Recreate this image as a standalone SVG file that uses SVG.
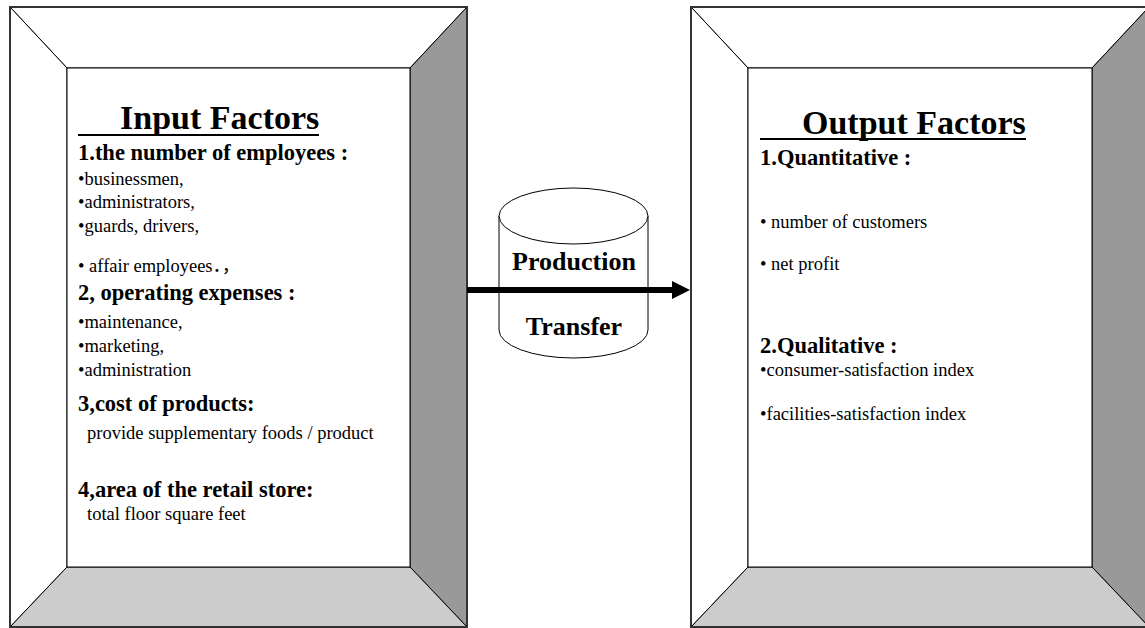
<svg xmlns="http://www.w3.org/2000/svg" width="1145" height="628" viewBox="0 0 1145 628">
<defs>
<style>
text{font-family:"Liberation Serif","Times New Roman","Noto Sans CJK SC",serif;fill:#000}
.title{font-size:34px;font-weight:bold}
.head{font-size:22.5px;font-weight:bold}
.item{font-size:18.5px}
.cyl{font-size:26px;font-weight:bold}
.face{stroke:#000;stroke-width:1}
.outer{fill:none;stroke:#333;stroke-width:2}
.uline{stroke:#000;stroke-width:2}
</style>
</defs>
<rect width="1145" height="628" fill="#fff"/>

<g id="input-factors">
<polygon class="face" points="10,7 467,7 410,68 67,68" fill="#fff"/>
<polygon class="face" points="10,7 67,68 67,567 10,627" fill="#fff"/>
<polygon class="face" points="467,7 467,627 410,567 410,68" fill="#999"/>
<polygon class="face" points="10,627 67,567 410,567 467,627" fill="#ccc"/>
<rect class="face" x="67" y="68" width="343" height="499" fill="#fff"/>
<rect class="outer" x="10" y="7" width="457" height="620"/>
<text class="title" x="120" y="129">Input Factors</text>
<line class="uline" x1="78" y1="135" x2="319" y2="135"/>
<text class="head" x="78" y="160">1.the number of employees :</text>
<text class="item" x="78" y="185">•businessmen,</text>
<text class="item" x="78" y="208">•administrators,</text>
<text class="item" x="78" y="232">•guards, drivers,</text>
<text class="item" x="78" y="272">• affair employees．，</text>
<text class="head" x="78" y="300">2, operating expenses :</text>
<text class="item" x="78" y="328">•maintenance,</text>
<text class="item" x="78" y="352">•marketing,</text>
<text class="item" x="78" y="376">•administration</text>
<text class="head" x="78" y="411">3,cost of products:</text>
<text class="item" x="87" y="439">provide supplementary foods / product</text>
<text class="head" x="78" y="497">4,area of the retail store:</text>
<text class="item" x="87" y="520">total floor square feet</text>
</g>

<g id="production-transfer">
<path class="face" d="M499,216 L499,330 A74.5,28 0 0 0 648,330 L648,216" fill="#fff"/>
<ellipse class="face" cx="573.5" cy="216" rx="74.5" ry="28" fill="#fff"/>
<text class="cyl" x="574" y="270" text-anchor="middle">Production</text>
<text class="cyl" x="574" y="335" text-anchor="middle">Transfer</text>
</g>

<g id="output-factors">
<polygon class="face" points="691,7 1149,7 1092,68 748,68" fill="#fff"/>
<polygon class="face" points="691,7 748,68 748,567 691,627" fill="#fff"/>
<polygon class="face" points="1149,7 1149,627 1092,567 1092,68" fill="#999"/>
<polygon class="face" points="691,627 748,567 1092,567 1149,627" fill="#ccc"/>
<rect class="face" x="748" y="68" width="344" height="499" fill="#fff"/>
<rect class="outer" x="691" y="7" width="458" height="620"/>
<text class="title" x="802" y="134">Output Factors</text>
<line class="uline" x1="760" y1="139" x2="1026" y2="139"/>
<text class="head" x="760" y="165">1.Quantitative :</text>
<text class="item" x="760" y="228">• number of customers</text>
<text class="item" x="760" y="270">• net profit</text>
<text class="head" x="760" y="353">2.Qualitative :</text>
<text class="item" x="760" y="376">•consumer-satisfaction index</text>
<text class="item" x="760" y="420">•facilities-satisfaction index</text>
</g>

<g id="connectors">
<line x1="467" y1="290" x2="674" y2="290" stroke="#000" stroke-width="6"/>
<path d="M672,281 L690,290 L672,299 Z" fill="#000"/>
</g>
</svg>
